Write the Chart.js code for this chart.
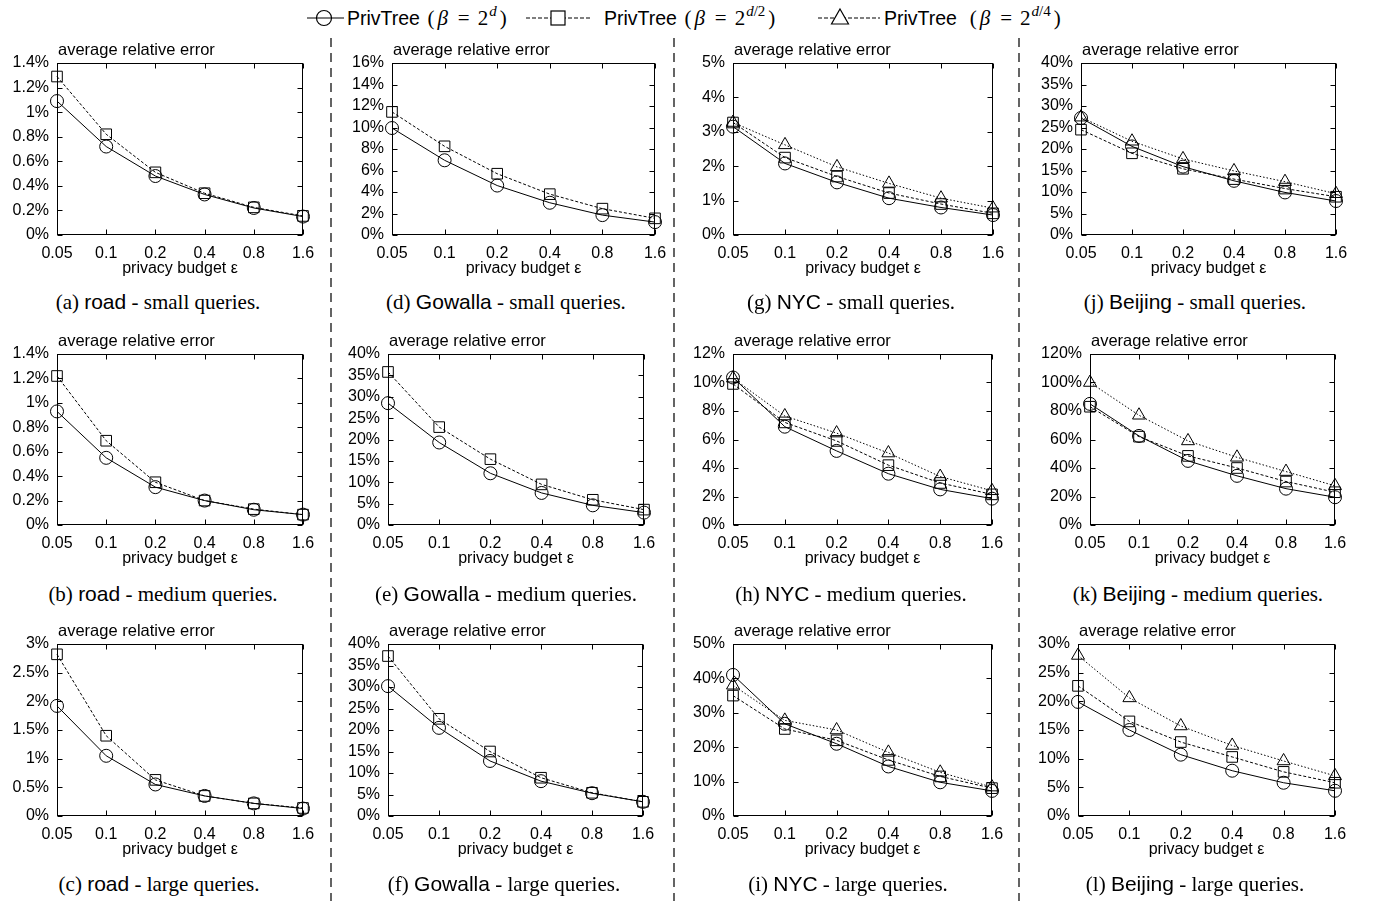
<!DOCTYPE html>
<html><head><meta charset="utf-8">
<script src="https://cdn.jsdelivr.net/npm/chart.js@4.4.0/dist/chart.umd.min.js"></script>
<style>
html,body{margin:0;padding:0;background:#fff;}
body{width:1374px;height:901px;position:relative;overflow:hidden;font-family:"Liberation Sans",Arial,sans-serif;color:#000;}
canvas.cv{position:absolute;}
.cap{position:absolute;transform:translateX(-50%);white-space:nowrap;font-family:"Liberation Serif","Times New Roman",serif;font-size:21px;line-height:24px;color:#000;}
.cap .ds{font-family:"Liberation Sans",Arial,sans-serif;font-size:21px;}
.lg{position:absolute;top:6px;white-space:nowrap;font-size:19.5px;line-height:24px;}
.m{font-family:"Liberation Serif","Times New Roman",serif;font-size:21px;margin-left:2px;}
.m .eq{margin:0 8px;}
.m .b{margin:0 2px 0 3px;}
.m sup{font-size:15px;vertical-align:9px;line-height:0;margin-left:1px;margin-right:3px;}
#deco{position:absolute;left:0;top:0;}
</style>
</head><body>
<svg id="deco" width="1374" height="901"></svg>
<div class="lg" style="left:347px">PrivTree <span class="m">(<i class="b">β</i><span class="eq">=</span>2<sup><i>d</i></sup>)</span></div>
<div class="lg" style="left:604px">PrivTree <span class="m">(<i class="b">β</i><span class="eq">=</span>2<sup><i>d</i>/2</sup>)</span></div>
<div class="lg" style="left:884px">PrivTree &nbsp;<span class="m">(<i class="b">β</i><span class="eq">=</span>2<sup><i>d</i>/4</sup>)</span></div>
<script>
// ---------------- data ----------------
const epsilonLabels = ['0.05', '0.1', '0.2', '0.4', '0.8', '1.6'];
const seriesLabels = ['PrivTree (β = 2^d)', 'PrivTree (β = 2^(d/2))', 'PrivTree (β = 2^(d/4))'];

// road (values in %)
const roadSmallD   = [1.09, 0.72, 0.48, 0.33, 0.22, 0.15];
const roadSmallD2  = [1.29, 0.82, 0.51, 0.34, 0.225, 0.155];
const roadMediumD  = [0.93, 0.55, 0.31, 0.20, 0.125, 0.085];
const roadMediumD2 = [1.22, 0.69, 0.35, 0.20, 0.13, 0.085];
const roadLargeD   = [1.92, 1.05, 0.55, 0.35, 0.22, 0.13];
const roadLargeD2  = [2.82, 1.40, 0.63, 0.35, 0.22, 0.14];
// Gowalla
const gowSmallD    = [9.95, 6.95, 4.6, 3.0, 1.85, 1.2];
const gowSmallD2   = [11.45, 8.25, 5.7, 3.8, 2.45, 1.55];
const gowMediumD   = [28.5, 19.3, 12.1, 7.5, 4.6, 2.9];
const gowMediumD2  = [35.8, 22.9, 15.4, 9.5, 5.9, 3.6];
const gowLargeD    = [30.2, 20.5, 12.8, 8.1, 5.3, 3.3];
const gowLargeD2   = [37.2, 22.6, 15.0, 8.9, 5.4, 3.3];
// NYC
const nycSmallD    = [3.15, 2.08, 1.53, 1.07, 0.80, 0.58];
const nycSmallD2   = [3.27, 2.25, 1.70, 1.22, 0.90, 0.63];
const nycSmallD4   = [3.27, 2.62, 1.98, 1.50, 1.07, 0.78];
const nycMediumD   = [10.35, 6.9, 5.2, 3.6, 2.5, 1.85];
const nycMediumD2  = [9.9, 7.2, 5.9, 4.2, 2.95, 2.15];
const nycMediumD4  = [10.3, 7.65, 6.45, 5.05, 3.4, 2.4];
const nycLargeD    = [41, 26.8, 21, 14.4, 9.8, 7.3];
const nycLargeD2   = [35, 25.3, 22, 16.3, 11.5, 8.1];
const nycLargeD4   = [38, 27.8, 25, 18.5, 12.7, 8.4];
// Beijing
const bjSmallD     = [27.2, 20.6, 15.9, 12.6, 9.9, 7.9];
const bjSmallD2    = [24.5, 19.0, 15.4, 13.0, 10.8, 8.9];
const bjSmallD4    = [27.4, 21.8, 17.7, 14.9, 12.4, 9.6];
const bjMediumD    = [85, 62.5, 45, 34.5, 25.5, 19.5];
const bjMediumD2   = [83, 62, 48.5, 40, 30.5, 23];
const bjMediumD4   = [100, 77, 59, 47.5, 37.5, 27.5];
const bjLargeD     = [19.9, 15, 10.7, 7.9, 5.8, 4.4];
const bjLargeD2    = [22.7, 16.5, 12.9, 10.3, 7.7, 5.8];
const bjLargeD4    = [28, 20.6, 15.7, 12.3, 9.6, 7.0];

// y-axis ranges (max, step) in %
const yMax  = {a:1.4, b:1.4, c:3, d:16, e:40, f:40, g:5, h:12, i:50, j:40, k:120, l:30};
const yStep = {a:0.2, b:0.2, c:0.5, d:2, e:5, f:5, g:1, h:2, i:10, j:5, k:20, l:5};

const captions = {
  a:['(a) ','road',' - small queries.'], b:['(b) ','road',' - medium queries.'], c:['(c) ','road',' - large queries.'],
  d:['(d) ','Gowalla',' - small queries.'], e:['(e) ','Gowalla',' - medium queries.'], f:['(f) ','Gowalla',' - large queries.'],
  g:['(g) ','NYC',' - small queries.'], h:['(h) ','NYC',' - medium queries.'], i:['(i) ','NYC',' - large queries.'],
  j:['(j) ','Beijing',' - small queries.'], k:['(k) ','Beijing',' - medium queries.'], l:['(l) ','Beijing',' - large queries.']
};
const panelSeries = {
  a:[roadSmallD, roadSmallD2], b:[roadMediumD, roadMediumD2], c:[roadLargeD, roadLargeD2],
  d:[gowSmallD, gowSmallD2], e:[gowMediumD, gowMediumD2], f:[gowLargeD, gowLargeD2],
  g:[nycSmallD, nycSmallD2, nycSmallD4], h:[nycMediumD, nycMediumD2, nycMediumD4], i:[nycLargeD, nycLargeD2, nycLargeD4],
  j:[bjSmallD, bjSmallD2, bjSmallD4], k:[bjMediumD, bjMediumD2, bjMediumD4], l:[bjLargeD, bjLargeD2, bjLargeD4]
};

// ---------------- layout ----------------
const rows = [{T:63, B:235}, {T:354, B:525}, {T:644, B:816}];
const capY = [302, 594, 884];
const layout = {
  a:{r:0, L:57, R:303, cx:158}, b:{r:1, L:57, R:303, cx:163}, c:{r:2, L:57, R:303, cx:159},
  d:{r:0, L:392, R:655, cx:506}, e:{r:1, L:388, R:644, cx:506}, f:{r:2, L:388, R:643, cx:504},
  g:{r:0, L:733, R:993, cx:851}, h:{r:1, L:733, R:992, cx:851}, i:{r:2, L:733, R:992, cx:848},
  j:{r:0, L:1081, R:1336, cx:1195}, k:{r:1, L:1090, R:1335, cx:1198}, l:{r:2, L:1078, R:1335, cx:1195}
};
const seriesStyle = [
  {pointStyle:'circle', pointRadius:6.5, borderDash:[]},
  {pointStyle:'rect', pointRadius:7.5, borderDash:[3, 2]},
  {pointStyle:'triangle', pointRadius:7.5, borderDash:[1.5, 2]}
];
const FONT = '"Liberation Sans", Arial, sans-serif';

const framePlugin = {
  id: 'frame',
  beforeDatasetsDraw(chart) {
    const {ctx, chartArea: a, scales: {x, y}} = chart;
    ctx.save();
    ctx.strokeStyle = '#000'; ctx.lineWidth = 1;
    const l = Math.round(a.left) + 0.5, r = Math.round(a.right) - 0.5;
    const t = Math.round(a.top) + 0.5, b = Math.round(a.bottom) - 0.5;
    ctx.strokeRect(l, t, r - l, b - t);
    ctx.beginPath();
    y.ticks.forEach(tk => {
      const py = Math.round(y.getPixelForValue(tk.value)) + 0.5;
      ctx.moveTo(l, py); ctx.lineTo(l + 5, py);
      ctx.moveTo(r, py); ctx.lineTo(r - 5, py);
    });
    x.ticks.forEach((tk, i) => {
      const px = Math.round(x.getPixelForValue(i)) + 0.5;
      ctx.moveTo(px, b); ctx.lineTo(px, b - 5);
      ctx.moveTo(px, t); ctx.lineTo(px, t + 5);
    });
    ctx.stroke();
    ctx.fillStyle = '#000';
    ctx.font = '16.5px ' + FONT;
    ctx.textAlign = 'left'; ctx.textBaseline = 'middle';
    ctx.fillText('average relative error', a.left + 1, a.top - 13);
    ctx.restore();
  }
};

function makePanel(key) {
  const p = layout[key], row = rows[p.r];
  const padL = 62, padT = 26, padR = 24, xH = 46;
  const w = (p.R - p.L) + padL + padR, h = (row.B - row.T) + padT + xH;
  const cv = document.createElement('canvas');
  cv.className = 'cv'; cv.width = w; cv.height = h;
  cv.style.left = (p.L - padL) + 'px'; cv.style.top = (row.T - padT) + 'px';
  document.body.appendChild(cv);
  const datasets = panelSeries[key].map((vals, i) => ({
    label: seriesLabels[i], data: vals,
    borderColor: '#000', borderWidth: 1, backgroundColor: 'rgba(0,0,0,0)',
    pointBackgroundColor: 'rgba(0,0,0,0)', pointBorderColor: '#000', pointBorderWidth: 1,
    pointStyle: seriesStyle[i].pointStyle, pointRadius: seriesStyle[i].pointRadius,
    borderDash: seriesStyle[i].borderDash, tension: 0, fill: false, clip: false
  }));
  new Chart(cv, {
    type: 'line',
    data: {labels: epsilonLabels, datasets},
    plugins: [framePlugin],
    options: {
      responsive: false, animation: false, devicePixelRatio: 1,
      layout: {padding: {left: 0, top: padT, right: padR, bottom: 0}},
      plugins: {legend: {display: false}, tooltip: {enabled: false}, title: {display: false}},
      scales: {
        x: {
          type: 'category', offset: false,
          grid: {display: false, drawTicks: false}, border: {display: false},
          ticks: {padding: 9, color: '#000', font: {family: FONT, size: 16}, maxRotation: 0, autoSkip: false},
          title: {display: true, text: 'privacy budget ε', color: '#000', font: {family: FONT, size: 16}, padding: {top: 0, bottom: 3}},
          afterFit(s) { s.height = xH; s.paddingLeft = 0; s.paddingRight = 0; }
        },
        y: {
          min: 0, max: yMax[key],
          grid: {display: false, drawTicks: false}, border: {display: false},
          ticks: {stepSize: yStep[key], autoSkip: false, padding: 8, color: '#000', font: {family: FONT, size: 16},
                  callback: v => (+v.toFixed(2)) + '%'},
          afterFit(s) { s.width = padL; s.paddingTop = 0; s.paddingBottom = 0; }
        }
      }
    }
  });
  const c = captions[key];
  const cap = document.createElement('div');
  cap.className = 'cap';
  cap.style.left = p.cx + 'px'; cap.style.top = (capY[p.r] - 12) + 'px';
  cap.innerHTML = c[0] + '<span class="ds">' + c[1] + '</span>' + c[2];
  document.body.appendChild(cap);
}
Object.keys(layout).forEach(makePanel);

// separators and legend samples
const svg = document.getElementById('deco');
const NS = 'http://www.w3.org/2000/svg';
function el(tag, attrs) { const e = document.createElementNS(NS, tag); for (const k in attrs) e.setAttribute(k, attrs[k]); svg.appendChild(e); return e; }
[331, 674, 1019].forEach(x => el('line', {x1:x, y1:38, x2:x, y2:901, stroke:'#111', 'stroke-width':1.3, 'stroke-dasharray':'9,6'}));
const ly = 18;
el('line', {x1:307, y1:ly, x2:344, y2:ly, stroke:'#000', 'stroke-width':1.2});
el('circle', {cx:324, cy:ly, r:7.5, fill:'none', stroke:'#000', 'stroke-width':1.2});
el('line', {x1:526, y1:ly, x2:592, y2:ly, stroke:'#000', 'stroke-width':1.2, 'stroke-dasharray':'4,2'});
el('rect', {x:551, y:ly - 7, width:14, height:14, fill:'#fff', stroke:'#000', 'stroke-width':1.2});
el('line', {x1:818, y1:ly, x2:880, y2:ly, stroke:'#000', 'stroke-width':1.2, 'stroke-dasharray':'4,2'});
el('polygon', {points:`${840},${ly-9} ${848.5},${ly+6} ${831.5},${ly+6}`, fill:'#fff', stroke:'#000', 'stroke-width':1.2});
</script>
</body></html>
